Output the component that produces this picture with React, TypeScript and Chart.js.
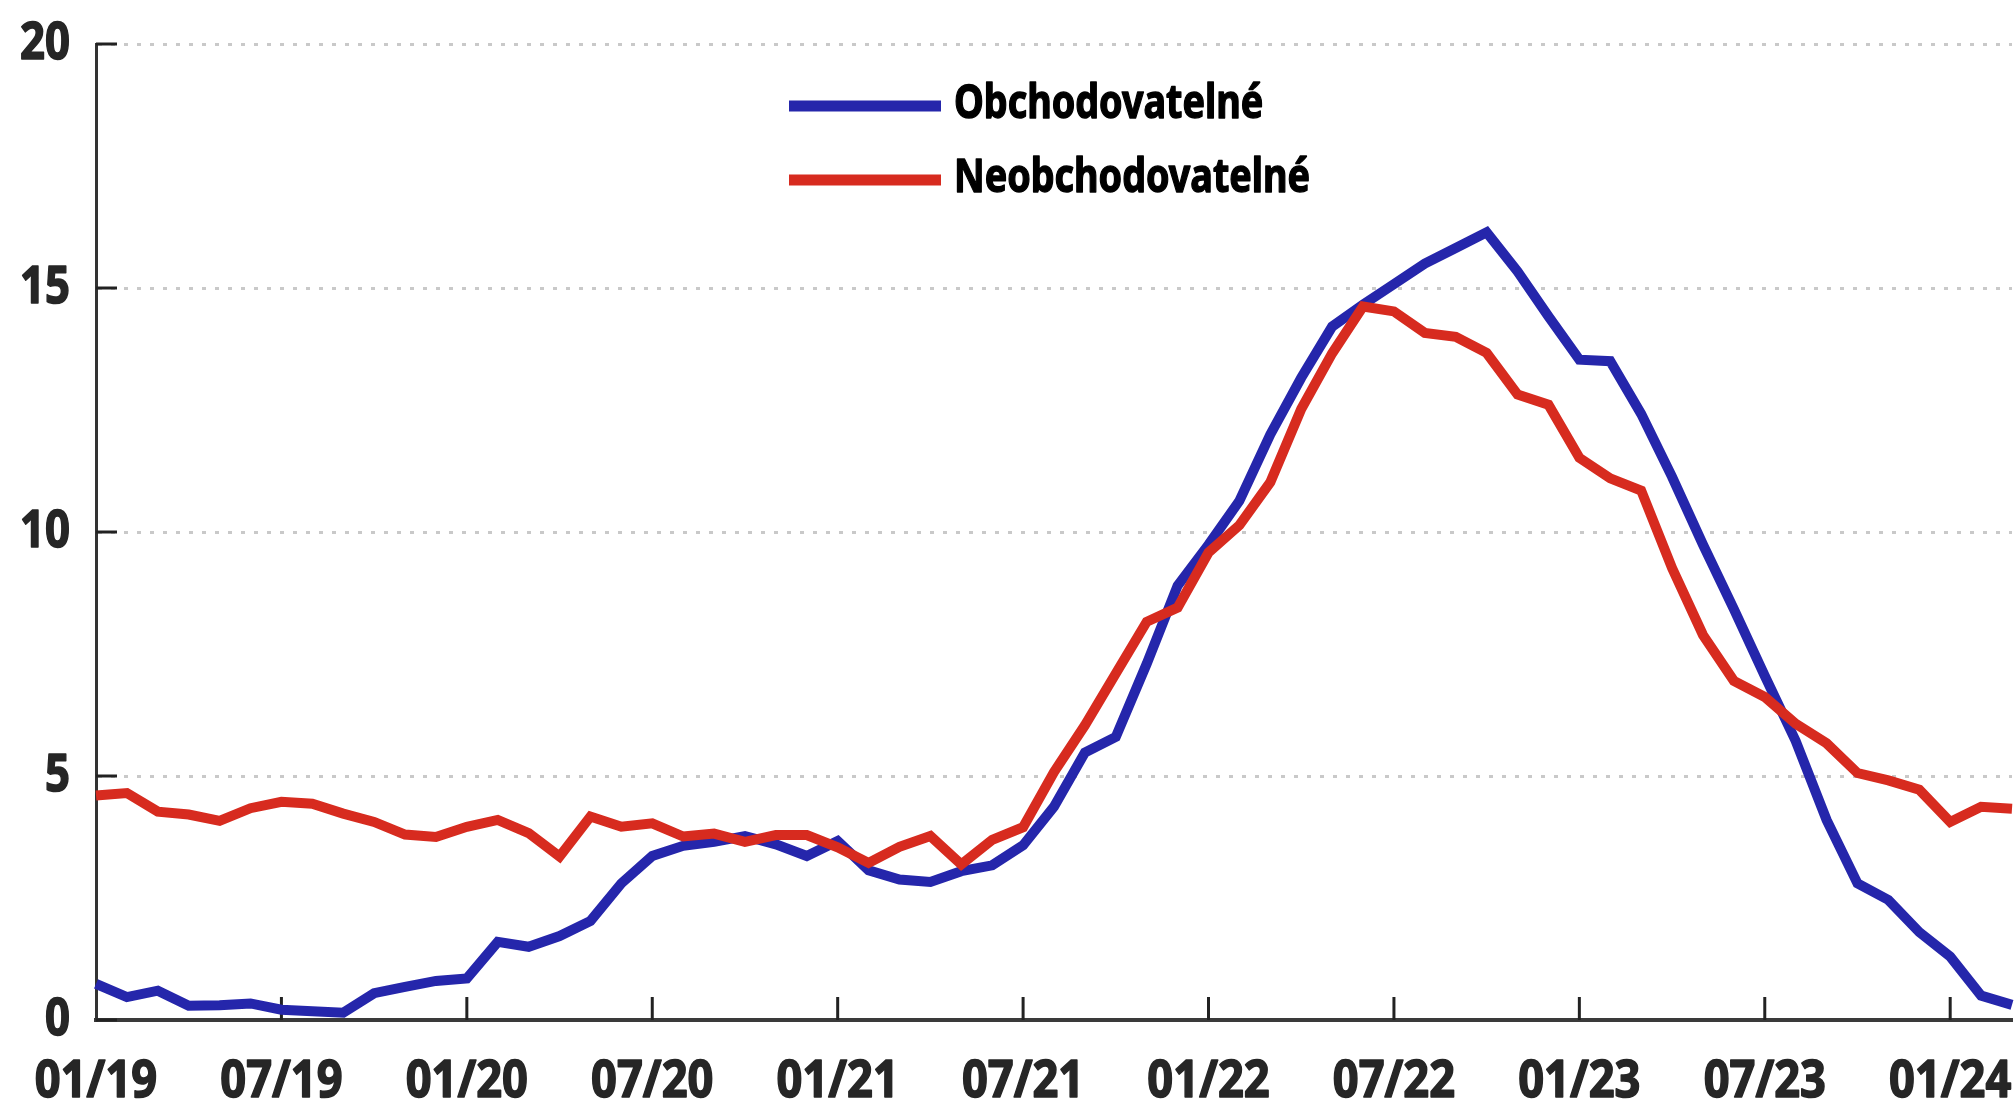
import { useEffect, useRef } from "react";
import { Chart, registerables } from "chart.js";

Chart.register(...registerables);

const months = [
  "01/19", "02/19", "03/19", "04/19", "05/19", "06/19", "07/19", "08/19", "09/19", "10/19", "11/19", "12/19",
  "01/20", "02/20", "03/20", "04/20", "05/20", "06/20", "07/20", "08/20", "09/20", "10/20", "11/20", "12/20",
  "01/21", "02/21", "03/21", "04/21", "05/21", "06/21", "07/21", "08/21", "09/21", "10/21", "11/21", "12/21",
  "01/22", "02/22", "03/22", "04/22", "05/22", "06/22", "07/22", "08/22", "09/22", "10/22", "11/22", "12/22",
  "01/23", "02/23", "03/23", "04/23", "05/23", "06/23", "07/23", "08/23", "09/23", "10/23", "11/23", "12/23",
  "01/24", "02/24", "03/24",
];

const obchodovatelne = [
  0.74, 0.47, 0.6, 0.29, 0.3, 0.34, 0.21, 0.18, 0.15, 0.55, 0.68, 0.8,
  0.85, 1.6, 1.5, 1.72, 2.03, 2.8, 3.36, 3.57, 3.65, 3.77, 3.6, 3.36,
  3.67, 3.07, 2.88, 2.83, 3.05, 3.17, 3.58, 4.37, 5.48, 5.8, 7.3, 8.9,
  9.74, 10.64, 12.0, 13.16, 14.21, 14.66, 15.08, 15.5, 15.82, 16.14, 15.34, 14.42,
  13.53, 13.5, 12.42, 11.13, 9.74, 8.42, 7.05, 5.72, 4.1, 2.8, 2.46, 1.8,
  1.3, 0.5, 0.31,
];

const neobchodovatelne = [
  4.6, 4.65, 4.27, 4.21, 4.08, 4.34, 4.47, 4.43, 4.23, 4.06, 3.8, 3.75,
  3.96, 4.1, 3.83, 3.35, 4.17, 3.96, 4.03, 3.76, 3.82, 3.65, 3.79, 3.79,
  3.54, 3.22, 3.55, 3.77, 3.19, 3.69, 3.95, 5.08, 6.04, 7.1, 8.16, 8.45,
  9.58, 10.14, 11.02, 12.52, 13.66, 14.62, 14.52, 14.08, 14.0, 13.67, 12.82, 12.61,
  11.52, 11.1, 10.85, 9.26, 7.89, 6.95, 6.62, 6.07, 5.67, 5.06, 4.91, 4.72,
  4.06, 4.37, 4.33,
];

const seriesNames = ["Obchodovatelné", "Neobchodovatelné"];
const seriesColors = ["#2526AB", "#D72B1F"];
const yTicks = [0, 5, 10, 15, 20];
const xLabelEvery = 6;

const FONT = "'Noto Sans', 'Open Sans', sans-serif";

function drawCondensed(
  ctx: CanvasRenderingContext2D,
  text: string,
  x: number,
  y: number,
  align: "left" | "right" | "center",
  size: number,
  sx: number,
  color: string,
  extra: number
) {
  ctx.save();
  ctx.font = `bold ${size}px ${FONT}`;
  ctx.fillStyle = color;
  ctx.strokeStyle = color;
  ctx.lineJoin = "round";
  ctx.lineWidth = extra;
  ctx.textBaseline = "alphabetic";
  ctx.textAlign = "left";
  const w = ctx.measureText(text).width * sx;
  const x0 = align === "right" ? x - w : align === "center" ? x - w / 2 : x;
  ctx.translate(x0, y);
  ctx.scale(sx, 1);
  ctx.fillText(text, 0, 0);
  if (extra > 0) ctx.strokeText(text, 0, 0);
  ctx.restore();
}

const decorPlugin = {
  id: "decor",
  beforeDatasetsDraw(chart: any) {
    const { ctx, chartArea, scales } = chart;
    const x = scales.x;
    const y = scales.y;
    ctx.save();
    ctx.strokeStyle = "#222222";
    ctx.lineWidth = 3;
    ctx.setLineDash([]);
    for (const t of yTicks) {
      const py = y.getPixelForValue(t);
      ctx.beginPath();
      ctx.moveTo(chartArea.left, py);
      ctx.lineTo(chartArea.left + 21, py);
      ctx.stroke();
    }
    for (let i = xLabelEvery; i < months.length; i += xLabelEvery) {
      const px = x.getPixelForValue(i);
      ctx.beginPath();
      ctx.moveTo(px, chartArea.bottom);
      ctx.lineTo(px, chartArea.bottom - 23);
      ctx.stroke();
    }
    ctx.restore();
  },
  afterDraw(chart: any) {
    const { ctx, chartArea, scales } = chart;
    const x = scales.x;
    const y = scales.y;
    for (const t of yTicks) {
      const py = y.getPixelForValue(t);
      drawCondensed(ctx, String(t), chartArea.left - 26, py + 15, "right", 52, 0.84, "#262626", 1.6);
    }
    for (let i = 0; i < months.length; i += xLabelEvery) {
      const px = x.getPixelForValue(i);
      drawCondensed(ctx, months[i], px, chartArea.bottom + 77, "center", 52, 0.87, "#262626", 1.6);
    }
    chart.data.datasets.forEach((ds: any, k: number) => {
      const ly = chartArea.top + 62 + k * 74;
      ctx.save();
      ctx.strokeStyle = ds.borderColor;
      ctx.lineWidth = 11;
      ctx.lineCap = "butt";
      ctx.beginPath();
      ctx.moveTo(chartArea.left + 693, ly);
      ctx.lineTo(chartArea.left + 845, ly);
      ctx.stroke();
      ctx.restore();
      drawCondensed(ctx, ds.label, chartArea.left + 858, ly + 12, "left", 46, 0.82, "#000000", 1.4);
    });
  },
};

export default function App() {
  const canvasRef = useRef<HTMLCanvasElement | null>(null);

  useEffect(() => {
    document.body.style.margin = "0";
    const canvas = canvasRef.current;
    if (!canvas) return;
    const chart = new Chart(canvas, {
      type: "line",
      data: {
        labels: months,
        datasets: [
          {
            label: seriesNames[0],
            data: obchodovatelne,
            borderColor: seriesColors[0],
            backgroundColor: seriesColors[0],
            borderWidth: 10,
            pointRadius: 0,
            tension: 0,
            borderJoinStyle: "miter",
            order: 1,
          },
          {
            label: seriesNames[1],
            data: neobchodovatelne,
            borderColor: seriesColors[1],
            backgroundColor: seriesColors[1],
            borderWidth: 10,
            pointRadius: 0,
            tension: 0,
            borderJoinStyle: "miter",
            order: 0,
          },
        ],
      },
      options: {
        responsive: false,
        animation: false,
        events: [],
        layout: { padding: { top: 44, right: 2, left: 0, bottom: 0 } },
        plugins: {
          legend: { display: false },
          tooltip: { enabled: false },
          title: { display: false },
        },
        scales: {
          x: {
            type: "category",
            offset: false,
            grid: { display: false },
            border: { display: true, color: "#3a3a3a", width: 4 },
            ticks: { display: false },
            afterFit: (scale: any) => {
              scale.height = 79;
            },
          },
          y: {
            min: 0,
            max: 20,
            grid: {
              display: true,
              drawTicks: false,
              color: (c: any) => (c.tick && c.tick.value === 0 ? "rgba(0,0,0,0)" : "#c9c9c9"),
              lineWidth: 3,
            },
            border: { display: true, color: "#333333", width: 3, dash: [4, 9] },
            ticks: { display: false, stepSize: 5 },
            afterFit: (scale: any) => {
              scale.width = 96;
            },
          },
        },
      },
      plugins: [decorPlugin],
    });
    return () => {
      chart.destroy();
    };
  }, []);

  return (
    <div style={{ position: "fixed", left: 0, top: 0, width: 2014, height: 1099, background: "#ffffff" }}>
      <canvas ref={canvasRef} width={2014} height={1099} style={{ display: "block", width: 2014, height: 1099 }} />
    </div>
  );
}
